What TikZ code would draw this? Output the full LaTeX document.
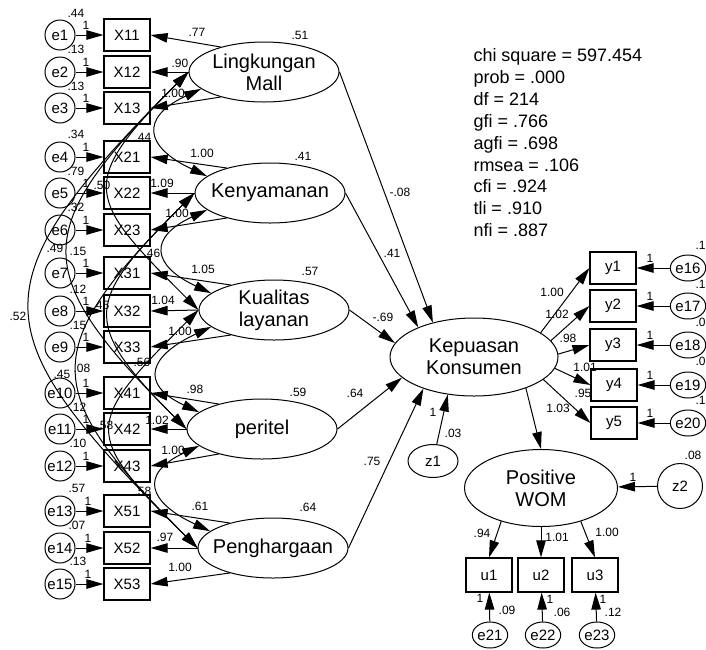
\documentclass[tikz,border=0pt]{standalone}
\usepackage{fontspec}
\setmainfont{Liberation Sans}
\usetikzlibrary{shapes.geometric,arrows.meta}
\begin{document}
\begin{tikzpicture}[x=1pt,y=1pt,line width=1pt,
  obs/.style={draw,line width=1.2pt,minimum width=46pt,minimum height=32pt,inner sep=0pt,font=\fontsize{15}{15}\selectfont},
  err/.style={draw,circle,minimum size=30pt,inner sep=0pt,font=\fontsize{15}{15}\selectfont},
  erx/.style={draw,ellipse,minimum width=35pt,minimum height=26pt,inner sep=0pt,font=\fontsize{15}{15}\selectfont},
  lat/.style={draw,ellipse,minimum width=150pt,minimum height=60pt,inner xsep=-30pt,inner ysep=-14pt,align=center,font=\fontsize{20}{22}\selectfont},
  num/.style={inner sep=0pt,font=\fontsize{12}{12}\selectfont},
  arr/.style={-{Triangle[length=17pt,width=9.5pt]}},
  cov/.style={{Triangle[length=17pt,width=9.5pt]}-{Triangle[length=17pt,width=9.5pt]}}]
\useasboundingbox (0,0) rectangle (706,-649);
% exogenous factors
\node[lat] (ling) at (264,-72) {Lingkungan\\Mall};
\node[lat] (keny) at (270,-193) {Kenyamanan};
\node[lat] (kual) at (274,-310) {Kualitas\\layanan};
\node[lat] (peri) at (262,-429) {peritel};
\node[lat] (peng) at (273,-548) {Penghargaan};
\node[num] (vl) at (300,-35) {.51}; \node[num] (vk) at (303,-156) {.41};
\node[num] (vq) at (310,-271) {.57}; \node[num] (vp) at (298,-392) {.59};
\node[num] (vg) at (308,-507) {.64};
% indicators and their errors
\node[err] (e1) at (60,-35) {e1}; \node[obs] (x11) at (127,-35) {X11}; \draw[arr] (e1) -- (x11);
\node[num] (k1) at (86,-25) {1}; \node[num] (v1) at (76,-13) {.44};
\node[err] (e2) at (60,-72) {e2}; \node[obs] (x12) at (127,-72) {X12}; \draw[arr] (e2) -- (x12);
\node[num] (k2) at (86,-62) {1}; \node[num] (v2) at (76,-49) {.13};
\node[err] (e3) at (60,-108) {e3}; \node[obs] (x13) at (127,-108) {X13}; \draw[arr] (e3) -- (x13);
\node[num] (k3) at (86,-98) {1}; \node[num] (v3) at (76,-86) {.13};
\node[err] (e4) at (60,-157) {e4}; \node[obs] (x21) at (127,-157) {X21}; \draw[arr] (e4) -- (x21);
\node[num] (k4) at (86,-147) {1}; \node[num] (v4) at (76,-134) {.34};
\node[err] (e5) at (60,-193) {e5}; \node[obs] (x22) at (127,-193) {X22}; \draw[arr] (e5) -- (x22);
\node[num] (k5) at (86,-183) {1}; \node[num] (v5) at (76,-171) {.79};
\node[err] (e6) at (60,-230) {e6}; \node[obs] (x23) at (127,-230) {X23}; \draw[arr] (e6) -- (x23);
\node[num] (k6) at (86,-220) {1}; \node[num] (v6) at (76,-207) {.32};
\node[err] (e7) at (60,-273) {e7}; \node[obs] (x31) at (127,-273) {X31}; \draw[arr] (e7) -- (x31);
\node[num] (k7) at (86,-263) {1}; \node[num] (v7) at (78,-251) {.15};
\node[err] (e8) at (60,-311) {e8}; \node[obs] (x32) at (127,-311) {X32}; \draw[arr] (e8) -- (x32);
\node[num] (k8) at (86,-301) {1}; \node[num] (v8) at (78,-289) {.12};
\node[err] (e9) at (60,-347) {e9}; \node[obs] (x33) at (127,-347) {X33}; \draw[arr] (e9) -- (x33);
\node[num] (k9) at (86,-337) {1}; \node[num] (v9) at (78,-325) {.15};
\node[err] (e10) at (60,-393) {e10}; \node[obs] (x41) at (127,-393) {X41}; \draw[arr] (e10) -- (x41);
\node[num] (k10) at (86,-383) {1}; \node[num] (v10) at (82,-368) {.08};
\node[err] (e11) at (60,-429) {e11}; \node[obs] (x42) at (127,-429) {X42}; \draw[arr] (e11) -- (x42);
\node[num] (k11) at (86,-419) {1}; \node[num] (v11) at (78,-407) {.12};
\node[err] (e12) at (60,-466) {e12}; \node[obs] (x43) at (127,-466) {X43}; \draw[arr] (e12) -- (x43);
\node[num] (k12) at (86,-456) {1}; \node[num] (v12) at (78,-443) {.10};
\node[err] (e13) at (60,-511) {e13}; \node[obs] (x51) at (127,-511) {X51}; \draw[arr] (e13) -- (x51);
\node[num] (k13) at (88,-501) {1}; \node[num] (v13) at (77,-488) {.57};
\node[err] (e14) at (60,-548) {e14}; \node[obs] (x52) at (127,-548) {X52}; \draw[arr] (e14) -- (x52);
\node[num] (k14) at (88,-538) {1}; \node[num] (v14) at (77,-525) {.07};
\node[err] (e15) at (60,-584) {e15}; \node[obs] (x53) at (127,-584) {X53}; \draw[arr] (e15) -- (x53);
\node[num] (k15) at (88,-574) {1}; \node[num] (v15) at (78,-561) {.13};
% loadings
\draw[arr] (ling.150) -- (x11.east); \draw[arr] (ling.west) -- (x12.east); \draw[arr] (ling.210) -- (x13.east);
\draw[arr] (keny.150) -- (x21.east); \draw[arr] (keny.west) -- (x22.east); \draw[arr] (keny.210) -- (x23.east);
\draw[arr] (kual.150) -- (x31.east); \draw[arr] (kual.west) -- (x32.east); \draw[arr] (kual.210) -- (x33.east);
\draw[arr] (peri.150) -- (x41.east); \draw[arr] (peri.west) -- (x42.east); \draw[arr] (peri.210) -- (x43.east);
\draw[arr] (peng.150) -- (x51.east); \draw[arr] (peng.west) -- (x52.east); \draw[arr] (peng.210) -- (x53.east);
\node[num] (l11) at (197,-32) {.77}; \node[num] (l12) at (180,-63) {.90}; \node[num] (l13) at (173,-93) {1.00};
\node[num] (l21) at (202,-153) {1.00}; \node[num] (l22) at (162,-183) {1.09}; \node[num] (l23) at (177,-213) {1.00};
\node[num] (l31) at (203,-269) {1.05}; \node[num] (l32) at (163,-300) {1.04}; \node[num] (l33) at (180,-331) {1.00};
\node[num] (l41) at (195,-389) {.98}; \node[num] (l42) at (157,-420) {1.02}; \node[num] (l43) at (173,-450) {1.00};
\node[num] (l51) at (200,-506) {.61}; \node[num] (l52) at (165,-537) {.97}; \node[num] (l53) at (180,-567) {1.00};
% covariances
\draw[cov] (ling.195) to[out=205,in=155,looseness=2] (keny.165);
\draw[cov] (keny.195) to[out=205,in=155,looseness=2] (kual.165);
\draw[cov] (kual.195) to[out=205,in=155,looseness=2] (peri.165);
\draw[cov] (peri.195) to[out=205,in=155,looseness=2] (peng.165);
\draw[cov] (ling.west) to[out=225,in=135,looseness=1.7] (kual.west);
\draw[cov] (keny.west) to[out=225,in=135,looseness=1.65] (peri.west);
\draw[cov] (kual.west) to[out=225,in=135,looseness=1.75] (peng.west);
\draw[cov] (ling.west) to[out=225,in=135,looseness=1.6] (peri.west);
\draw[cov] (keny.west) to[out=225,in=135,looseness=1.6] (peng.west);
\draw[cov] (ling.west) to[out=225,in=135,looseness=1.64] (peng.west);
\node[num] (c1) at (143,-137) {.44}; \node[num] (c2) at (152,-253) {.46};
\node[num] (c3) at (142,-362) {.56}; \node[num] (c4) at (143,-491) {.58};
\node[num] (c5) at (102,-185) {.50}; \node[num] (c6) at (101,-305) {.45};
\node[num] (c7) at (105,-425) {.58}; \node[num] (c8) at (55,-248) {.49};
\node[num] (c9) at (62,-374) {.45}; \node[num] (c10) at (18,-316) {.52};
% kepuasan konsumen
\node[lat,minimum width=168pt,minimum height=78pt] (kep) at (474,-357) {Kepuasan\\Konsumen};
\draw[arr] (ling.east) -- (kep.140); \draw[arr] (keny.east) -- (kep.152);
\draw[arr] (kual.east) -- (kep.170); \draw[arr] (peri.east) -- (kep.196);
\draw[arr] (peng.east) -- (kep.212);
\node[num] (p1) at (400,-192) {-.08}; \node[num] (p2) at (392,-253) {.41};
\node[num] (p3) at (383,-317) {-.69}; \node[num] (p4) at (355,-393) {.64};
\node[num] (p5) at (372,-461) {.75};
\node[draw,ellipse,minimum width=50pt,minimum height=33pt,inner sep=0pt,font=\fontsize{15}{15}\selectfont] (z1) at (433,-461) {z1};
\draw[arr] (z1) -- (kep.235);
\node[num] (kz1) at (433,-412) {1}; \node[num] (vz1) at (453,-433) {.03};
\node[obs] (y1) at (613,-268) {y1}; \node[obs] (y2) at (613,-306) {y2};
\node[obs] (y3) at (613,-345) {y3}; \node[obs] (y4) at (614,-385) {y4};
\node[obs] (y5) at (614,-423) {y5};
\draw[arr] (kep.20) -- (y1.west); \draw[arr] (kep.12) -- (y2.west);
\draw[arr] (kep.2) -- (y3.west); \draw[arr] (kep.-8) -- (y4.west);
\draw[arr] (kep.-18) -- (y5.west);
\node[num] (m1) at (552,-292) {1.00}; \node[num] (m2) at (557,-314) {1.02};
\node[num] (m3) at (568,-338) {.98}; \node[num] (m4) at (585,-367) {1.01};
\node[num] (m5) at (583,-393) {.95};
\node[erx] (e16) at (688,-268) {e16}; \draw[arr] (e16) -- (y1);
\node[erx] (e17) at (688,-306) {e17}; \draw[arr] (e17) -- (y2);
\node[erx] (e18) at (688,-345) {e18}; \draw[arr] (e18) -- (y3);
\node[erx] (e19) at (688,-385) {e19}; \draw[arr] (e19) -- (y4);
\node[erx] (e20) at (688,-423) {e20}; \draw[arr] (e20) -- (y5);
\node[num] (k16) at (650,-258) {1}; \node[num] (k17) at (650,-296) {1};
\node[num] (k18) at (650,-335) {1}; \node[num] (k19) at (650,-375) {1};
\node[num] (k20) at (650,-413) {1};
\node[num,anchor=east] (v16) at (706,-245) {.1}; \node[num,anchor=east] (v17) at (706,-284) {.1};
\node[num,anchor=east] (v18) at (706,-322) {.0}; \node[num,anchor=east] (v19) at (706,-361) {.0};
\node[num,anchor=east] (v20) at (706,-400) {.1};
% positive wom
\node[lat,minimum width=153pt,minimum height=77pt] (wom) at (541,-488) {Positive\\WOM};
\draw[arr] (kep.-31) -- (wom.north);
\node[num] (m6) at (558,-408) {1.03};
\node[draw,circle,minimum size=45pt,inner sep=0pt,font=\fontsize{15}{15}\selectfont] (z2) at (680,-486) {z2};
\draw[arr] (z2) -- (wom);
\node[num] (kz2) at (633,-477) {1}; \node[num] (vz2) at (693,-455) {.08};
\node[obs,minimum height=34pt] (u1) at (489,-575) {u1};
\node[obs,minimum height=34pt] (u2) at (541,-575) {u2};
\node[obs,minimum height=34pt] (u3) at (595,-575) {u3};
\draw[arr] (wom.220) -- (u1.north); \draw[arr] (wom.south) -- (u2.north); \draw[arr] (wom.320) -- (u3.north);
\node[num] (n1) at (482,-533) {.94}; \node[num] (n2) at (557,-537) {1.01}; \node[num] (n3) at (607,-532) {1.00};
\node[erx] (e21) at (490,-635) {e21}; \draw[arr] (e21) -- (u1);
\node[erx] (e22) at (543,-635) {e22}; \draw[arr] (e22) -- (u2);
\node[erx] (e23) at (597,-635) {e23}; \draw[arr] (e23) -- (u3);
\node[num] (k21) at (480,-598) {1}; \node[num] (k22) at (550,-599) {1}; \node[num] (k23) at (603,-599) {1};
\node[num] (v21) at (507,-610) {.09}; \node[num] (v22) at (562,-612) {.06}; \node[num] (v23) at (613,-612) {.12};
% fit indices
\node[anchor=north west,align=left,inner sep=0pt,font=\fontsize{18}{21.9}\selectfont] (fit) at (473,-48)
  {chi square = 597.454\\prob = .000\\df = 214\\gfi = .766\\agfi = .698\\rmsea = .106\\cfi = .924\\tli = .910\\nfi = .887};
\end{tikzpicture}
\end{document}
